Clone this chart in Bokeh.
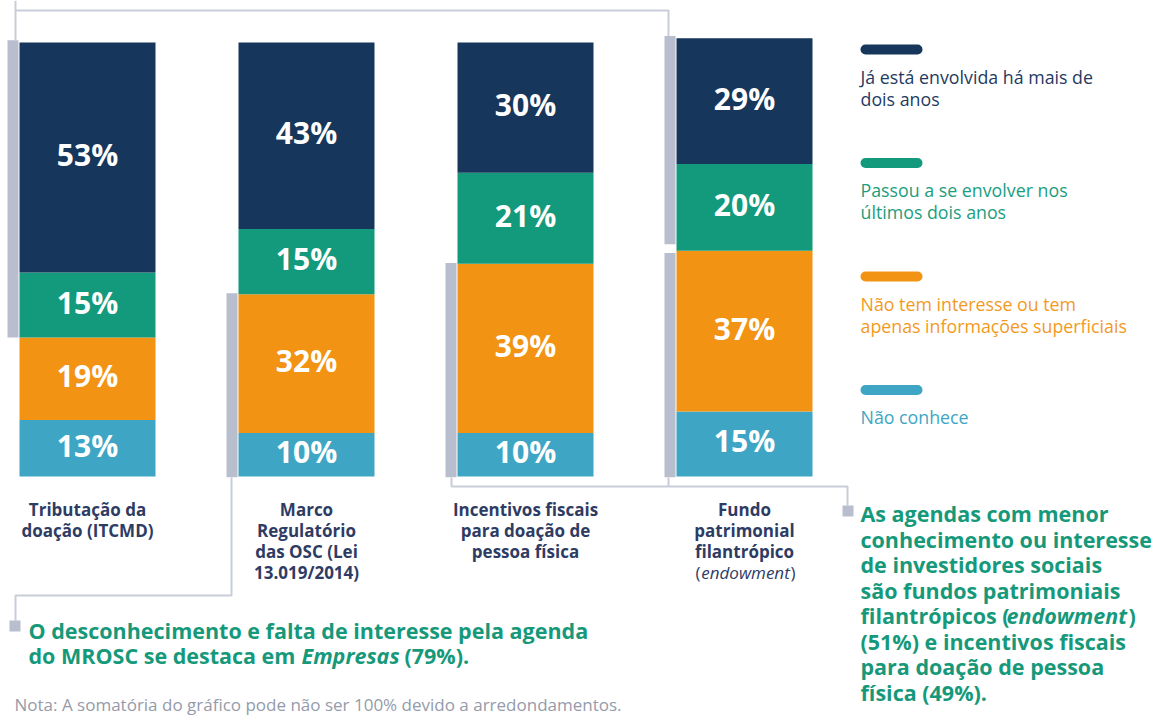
from bokeh.plotting import figure
from bokeh.models import Range1d, Label
from bokeh.core.properties import value
from bokeh.embed import file_html
from bokeh.resources import INLINE

# ---------------- data ----------------
categories = [
    "Tributação da doação (ITCMD)",
    "Marco Regulatório das OSC (Lei 13.019/2014)",
    "Incentivos fiscais para doação de pessoa física",
    "Fundo patrimonial filantrópico (endowment)",
]
category_lines = [
    ["Tributação da", "doação (ITCMD)"],
    ["Marco", "Regulatório", "das OSC (Lei", "13.019/2014)"],
    ["Incentivos fiscais", "para doação de", "pessoa física"],
    ["Fundo", "patrimonial", "filantrópico"],
]
italic_word = "endowment"

series_names = [
    "Não conhece",
    "Não tem interesse ou tem apenas informações superficiais",
    "Passou a se envolver nos últimos dois anos",
    "Já está envolvida há mais de dois anos",
]
nao_conhece = [13, 10, 10, 15]
sem_interesse = [19, 32, 39, 37]
passou_a_se_envolver = [15, 15, 21, 20]
ja_envolvida = [53, 43, 30, 29]

legend_order = [3, 2, 1, 0]
legend_lines = [
    ["Não conhece"],
    ["Não tem interesse ou tem", "apenas informações superficiais"],
    ["Passou a se envolver nos", "últimos dois anos"],
    ["Já está envolvida há mais de", "dois anos"],
]

# brackets: (bar index, group)  group "env" = involved, "nao" = not involved
bracket_bar = [0, 1, 2, 3, 3]
bracket_group = ["env", "nao", "nao", "env", "nao"]

note_text = "Nota: A somatória do gráfico pode não ser 100% devido a arredondamentos."

# ---------------- styles ----------------
colors = ["#3ea6c4", "#f29314", "#139a7c", "#17365c"]
legend_text_colors = ["#3ea6c4", "#f39a1e", "#1b9d7e", "#1f3a62"]
bracket_color = "#b8bece"
conn_color = "#c9cdda"
cat_color = "#2e3c64"
green = "#16997a"
FONT = "Open Sans"

W, H = 1156, 722
OFF = 0
BAR_STEP = 219.0
PX_PER_PCT = 4.34
TFIX = 7  # baseline correction for text placement (px)


def X(r):
    return (r - 87.0) / BAR_STEP


def Y(r):
    return (476.0 - r) / PX_PER_PCT


def TY(r):
    return Y(r - TFIX)


p = figure(width=W, height=H, output_backend="svg", toolbar_location=None,
           x_range=Range1d(X(OFF), X(OFF + W)), y_range=Range1d(Y(OFF + H), Y(OFF)),
           x_axis_location=None, y_axis_location=None, min_border=0)
p.outline_line_color = None
p.grid.visible = False
p.background_fill_color = "white"

# ---------------- bars ----------------
series = [nao_conhece, sem_interesse, passou_a_se_envolver, ja_envolvida]
xs = list(range(len(categories)))
bar_w = 136.0 / BAR_STEP
bottoms = [0] * len(xs)
lab_x, lab_y, lab_t = [], [], []
for s, vals in enumerate(series):
    tops = [b + v for b, v in zip(bottoms, vals)]
    p.vbar(x=xs, bottom=bottoms, top=tops, width=bar_w, fill_color=colors[s],
           line_color=None)
    for i, v in enumerate(vals):
        lab_x.append(xs[i])
        lab_y.append(bottoms[i] + v / 2)
        lab_t.append(f"{v}%")
    bottoms = tops
totals = bottoms

p.text(x=lab_x, y=lab_y, text=lab_t, text_align="center", text_baseline="middle",
       text_font=value(FONT), text_font_style="bold", text_font_size="30px",
       text_color="white", y_offset=-3)

# ---------------- brackets ----------------
bl, br, bb, bt = [], [], [], []
for bi, g in zip(bracket_bar, bracket_group):
    nao = nao_conhece[bi] + sem_interesse[bi]
    split = bracket_bar.count(bi) > 1
    if g == "env":
        lo = nao + (1.5 if split else 0)
        hi = totals[bi] + 0.5
    else:
        lo = -0.2
        hi = nao - (0.5 if split else -0.2)
    bl.append(xs[bi] - bar_w / 2 - 12.0 / BAR_STEP)
    br.append(xs[bi] - bar_w / 2 - 1.0 / BAR_STEP)
    bb.append(lo)
    bt.append(hi)
p.quad(left=bl, right=br, bottom=bb, top=bt, fill_color=bracket_color, line_color=None)

# ---------------- connectors ----------------
paths = [
    [(15, 0), (15, 40)],
    [(15, 10), (668, 10), (668, 36)],
    [(231, 477), (231, 595), (15, 595), (15, 620)],
    [(451, 477), (451, 486), (847, 486), (847, 505)],
    [(668, 477), (668, 486)],
]
p.multi_line(xs=[[X(a) for a, _ in pth] for pth in paths],
             ys=[[Y(b) for _, b in pth] for pth in paths],
             line_color=conn_color, line_width=2)
p.quad(left=[X(9), X(842)], right=[X(20), X(853)], bottom=[Y(631), Y(516)],
       top=[Y(620), Y(505)], fill_color=bracket_color, line_color=None)

# ---------------- category labels ----------------
cx, cy, ct = [], [], []
for i, lines in enumerate(category_lines):
    for k, ln in enumerate(lines):
        cx.append(xs[i])
        cy.append(TY(516 + 21 * k))
        ct.append(ln)
p.text(x=cx, y=cy, text=ct, text_align="center", text_baseline="alphabetic",
       text_font=value(FONT), text_font_style="bold", text_font_size="17px",
       text_color=cat_color)
# "(endowment)" with italic word
p.add_layout(Label(x=X(745), y=TY(579), text=italic_word, text_align="center",
                   text_baseline="alphabetic", text_font=FONT, text_font_style="italic",
                   text_font_size="17px", text_color=cat_color))
p.add_layout(Label(x=X(700), y=TY(579), text="(", text_align="right",
                   text_baseline="alphabetic", text_font=FONT, text_font_style="normal",
                   text_font_size="17px", text_color=cat_color))
p.add_layout(Label(x=X(790), y=TY(579), text=")", text_align="left",
                   text_baseline="alphabetic", text_font=FONT, text_font_style="normal",
                   text_font_size="17px", text_color=cat_color))

# ---------------- legend ----------------
leg_y0 = 49
leg_dy = 113.5
for n, s in enumerate(legend_order):
    yy = leg_y0 + leg_dy * n
    p.segment(x0=[X(865)], y0=[Y(yy)], x1=[X(917)], y1=[Y(yy)],
              line_color=colors[s], line_width=10, line_cap="round")
    for k, ln in enumerate(legend_lines[s]):
        p.add_layout(Label(x=X(860), y=TY(yy + 34 + 22 * k), text=ln,
                           text_baseline="alphabetic", text_font=FONT,
                           text_font_size="17.8px", text_color=legend_text_colors[s]))


# ---------------- annotations ----------------
def lab(x, y, t, style="bold", size="21.5px", color=green, align="left"):
    p.add_layout(Label(x=X(x), y=TY(y), text=t, text_align=align,
                       text_baseline="alphabetic", text_font=FONT,
                       text_font_style=style, text_font_size=size, text_color=color))


lab(28, 637, "O desconhecimento e falta de interesse pela agenda")
lab(28, 662, "do MROSC se destaca em")
lab(301, 662, "Empresas", style="bold italic")
lab(404, 662, "(79%).")

right_lines = [
    "As agendas com menor",
    "conhecimento ou interesse",
    "de investidores sociais",
    "são fundos patrimoniais",
    "filantrópicos (",
    "(51%) e incentivos fiscais",
    "para doação de pessoa",
    "física (49%).",
]
for k, ln in enumerate(right_lines):
    lab(860, 520 + 25.5 * k, ln)
lab(1006, 520 + 25.5 * 4, italic_word, style="bold italic")
lab(1128, 520 + 25.5 * 4, ")")

lab(14, 711, note_text, style="normal", size="17px", color="#959baa")

open("out.html", "w").write(file_html(p, INLINE))
